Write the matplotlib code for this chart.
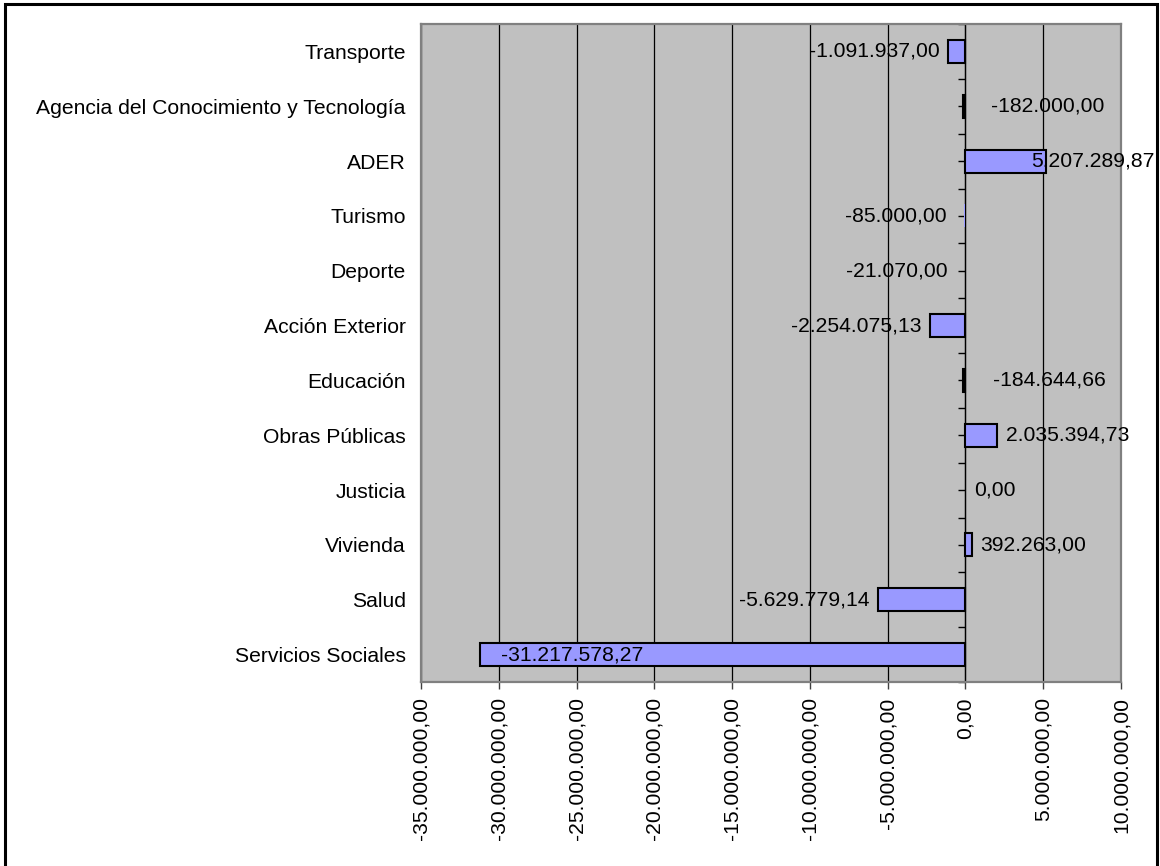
import matplotlib.pyplot as plt
from matplotlib.patches import Rectangle

plt.rcParams['font.family'] = ['Liberation Sans', 'DejaVu Sans']

# categories top -> bottom, as in the chart
categories = ['Transporte', 'Agencia del Conocimiento y Tecnología', 'ADER', 'Turismo',
              'Deporte', 'Acción Exterior', 'Educación', 'Obras Públicas', 'Justicia',
              'Vivienda', 'Salud', 'Servicios Sociales']
values = [-1091937.00, -182000.00, 5207289.87, -85000.00, -21070.00, -2254075.13,
          -184644.66, 2035394.73, 0.00, 392263.00, -5629779.14, -31217578.27]
x_ticks = [-35e6, -30e6, -25e6, -20e6, -15e6, -10e6, -5e6, 0, 5e6, 10e6]

# label placement, in pixels from the bar end (Excel's own quirks)
label_dx = [-9, 28, -15, -17, -17, -9, 30, 9, 9, 9, -8, 21]
label_ha = ['right', 'left', 'left', 'right', 'right', 'right', 'left', 'left',
            'left', 'left', 'right', 'left']


def es_fmt(v):
    s = f"{v:,.2f}"
    return s.replace(',', '#').replace('.', ',').replace('#', '.')


n = len(categories)
ypos = [n - 1 - i for i in range(n)]
fs = 15.2

fig = plt.figure(figsize=(11.6, 8.66), dpi=100)
ax = fig.add_axes([421 / 1160, 1 - 682 / 866, 700 / 1160, 658 / 866])
ax.set_facecolor('#C0C0C0')

# bars thinner than a pixel or two don't show an outline in the original
edge_w = [1.5 if abs(v) > 1e5 else 0 for v in values]
ax.barh(ypos, values, height=0.42, color='#9999FF', edgecolor='black',
        linewidth=edge_w, zorder=3)

for y, v, dx, ha in zip(ypos, values, label_dx, label_ha):
    ax.annotate(es_fmt(v), (v, y), xytext=(dx, 0), textcoords='offset pixels',
                ha=ha, va='center', fontsize=fs, zorder=5, annotation_clip=False)

ax.set_xlim(-35e6, 10e6)
ax.set_ylim(-0.5, n - 0.5)
ax.set_xticks(x_ticks)
ax.set_xticklabels([es_fmt(t) for t in x_ticks], rotation=90, fontsize=fs)
ax.set_yticks(ypos)
ax.set_yticklabels(categories, fontsize=fs)
ax.tick_params(axis='y', length=0, pad=11)
ax.tick_params(axis='x', direction='out', length=5, width=1, color='#404040', pad=6)
ax.xaxis.grid(True, color='black', linewidth=0.9)
ax.set_axisbelow(True)
for sp in ax.spines.values():
    sp.set_color('#808080')
    sp.set_linewidth(1.6)

# category axis ticks sitting on the zero line, pointing left
sec = ax.secondary_yaxis(35 / 45)
sec.set_yticks([k - 0.5 for k in range(n + 1)])
sec.set_yticks(list(range(n)), minor=True)
sec.tick_params(which='both', direction='in', length=5, width=1, color='black',
                labelleft=False, labelright=False)
for sp in sec.spines.values():
    sp.set_color('black')
    sp.set_linewidth(0.9)

# outer chart frame
fig.patches.append(Rectangle((5 / 1160, -0.01), 1152 / 1160, 1.01 - 4 / 866,
                             transform=fig.transFigure, fill=False,
                             edgecolor='black', linewidth=2.2, zorder=10))

fig.savefig('out.png', dpi=100)
